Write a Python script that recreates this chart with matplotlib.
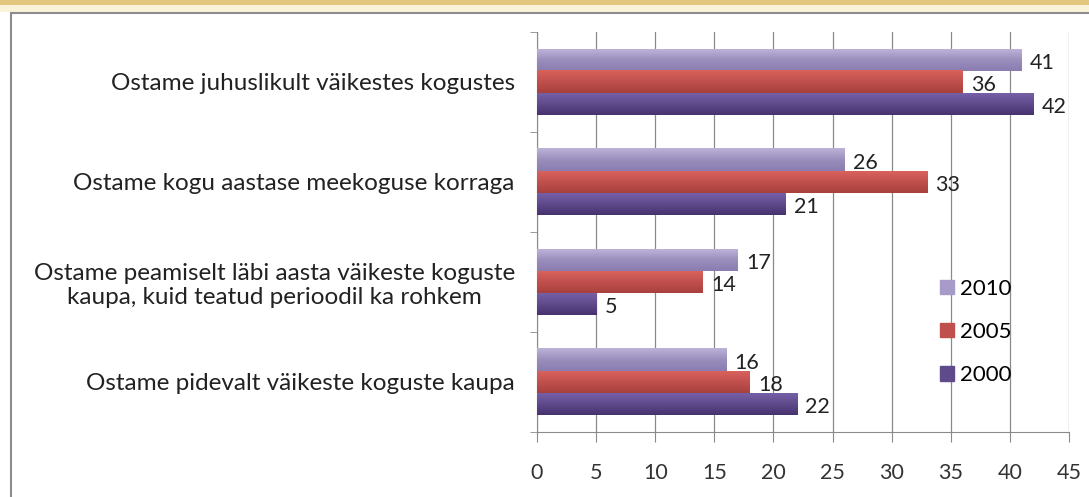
import numpy as np
import matplotlib.pyplot as plt
from matplotlib.colors import LinearSegmentedColormap
from matplotlib.patches import Rectangle

categories = [
    "Ostame pidevalt väikeste koguste kaupa",
    "Ostame peamiselt läbi aasta väikeste koguste\nkaupa, kuid teatud perioodil ka rohkem",
    "Ostame kogu aastase meekoguse korraga",
    "Ostame juhuslikult väikestes kogustes",
]
years = ["2010", "2005", "2000"]
v2010 = [16, 17, 26, 41]
v2005 = [18, 14, 33, 36]
v2000 = [22, 5, 21, 42]
xticks = [0, 5, 10, 15, 20, 25, 30, 35, 40, 45]

plt.rcParams['font.family'] = ['Lato', 'DejaVu Sans']

fig = plt.figure(figsize=(10.89, 4.97), dpi=100)
W, H = 1089, 497

# gold strip at top + grey frame
fig.patches.append(Rectangle((0, 1 - 5 / H), 1, 5 / H, transform=fig.transFigure,
                             facecolor='#e3c77f', edgecolor='none', zorder=-10))
fig.patches.append(Rectangle((0, 1 - 12 / H), 1, 7 / H, transform=fig.transFigure,
                             facecolor='#faf3da', edgecolor='none', zorder=-10))
fig.patches.append(Rectangle((11 / W, -0.1), 1.2, 1 - 13 / H + 0.1, transform=fig.transFigure,
                             facecolor='white', edgecolor='#8c8c8c', lw=1.5, zorder=-10))

ax = fig.add_axes([537 / W, 1 - 432 / H, (1069 - 537) / W, (432 - 32) / H])
ax.set_facecolor('none')

y = np.arange(len(categories))
h = 0.22
series = [
    (v2010, h, ['#bdb3d8', '#9a8ebd', '#8a7cb0'], '#a79bca'),
    (v2005, 0, ['#d9625c', '#c0504d', '#a8403c'], '#c0504d'),
    (v2000, -h, ['#7560a8', '#5f4b8b', '#45326e'], '#5f4b8b'),
]
grad = np.linspace(0, 1, 64).reshape(-1, 1)
for (vals, off, cols, solid), yr in zip(series, years):
    bars = ax.barh(y + off, vals, height=h, color='none', edgecolor='none', label=yr, zorder=3)
    cmap = LinearSegmentedColormap.from_list(yr, cols[::-1])
    for b, v in zip(bars, vals):
        bb = b.get_bbox()
        ax.imshow(grad, cmap=cmap, aspect='auto', origin='lower',
                  extent=(bb.x0, bb.x1, bb.y0, bb.y1), zorder=3)
        ax.annotate(str(v), (bb.x1, (bb.y0 + bb.y1) / 2), xytext=(6, -2),
                    textcoords='offset points', va='center', ha='left',
                    fontsize=15.5, color='#222222', zorder=4)

ax.set_xlim(0, 45)
ax.set_ylim(-0.5, 3.5)
ax.set_xticks(xticks)
ax.set_xticklabels([str(t) for t in xticks], fontsize=15.5, color='#333333')
ax.xaxis.grid(True, color='#8a8a8a', lw=0.9, zorder=1)
ax.set_axisbelow(True)

ax.set_yticks(y)
ax.set_yticklabels(categories, fontsize=17.5, color='#222222')
for lab in ax.get_yticklabels():
    lab.set_multialignment('center')
ax.set_yticks(np.arange(-0.5, 4, 1), minor=True)
ax.tick_params(axis='y', which='major', length=0, pad=16)
ax.tick_params(axis='y', which='minor', length=5, color='#8a8a8a')
ax.tick_params(axis='x', length=7, color='#8a8a8a', pad=15)

for s in ['top', 'right']:
    ax.spines[s].set_visible(False)
ax.spines['left'].set_color('#8a8a8a')
ax.spines['bottom'].set_color('#8a8a8a')

handles = [Rectangle((0, 0), 1, 1, color=s[3]) for s in series]
ax.legend(handles, years, loc='center left', bbox_to_anchor=(0.758, 0.25),
          frameon=False, fontsize=16, handlelength=0.6, handleheight=0.6,
          handletextpad=0.3, labelspacing=1.05, borderaxespad=0, borderpad=0)

fig.savefig('out.png', dpi=100)
